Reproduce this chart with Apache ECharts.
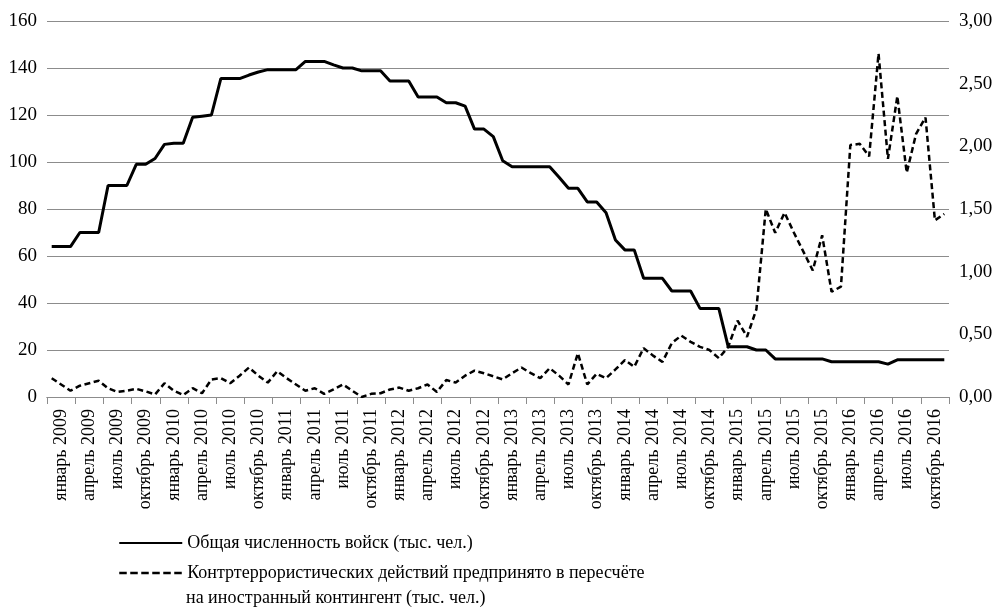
<!DOCTYPE html>
<html>
<head>
<meta charset="utf-8">
<script src="https://cdn.jsdelivr.net/npm/echarts@6/dist/echarts.min.js"></script>
<style>
  html, body { margin: 0; padding: 0; background: #fff; }
  #chart { width: 1000px; height: 612px; }
</style>
</head>
<body>
<div id="chart"></div>
<script>
// months Jan 2009 .. Dec 2016
const monthNames = ['январь', 'февраль', 'март', 'апрель', 'май', 'июнь', 'июль', 'август', 'сентябрь', 'октябрь', 'ноябрь', 'декабрь']
const years = [2009, 2010, 2011, 2012, 2013, 2014, 2015, 2016]
const months = []
years.forEach(y => monthNames.forEach(m => months.push(m + ' ' + y)))

// axis tick labels, one per quarter
const quarterLabels = [
  'январь 2009', 'апрель 2009', 'июль 2009', 'октябрь 2009',
  'январь 2010', 'апрель 2010', 'июль 2010', 'октябрь 2010',
  'январь 2011', 'апрель 2011', 'июль 2011', 'октябрь 2011',
  'январь 2012', 'апрель 2012', 'июль 2012', 'октябрь 2012',
  'январь 2013', 'апрель 2013', 'июль 2013', 'октябрь 2013',
  'январь 2014', 'апрель 2014', 'июль 2014', 'октябрь 2014',
  'январь 2015', 'апрель 2015', 'июль 2015', 'октябрь 2015',
  'январь 2016', 'апрель 2016', 'июль 2016', 'октябрь 2016'
]

// total troops, thousand people (left axis)
const troops = [
  64, 64, 64, 70, 70, 70, 90, 90, 90, 99, 99, 101.5,
  107.5, 108, 108, 119, 119.5, 120, 135.5, 135.5, 135.5, 137, 138.3, 139.3,
  139.3, 139.3, 139.3, 142.8, 142.8, 142.8, 141.3, 140, 140, 138.8, 138.8, 138.8,
  134.5, 134.5, 134.5, 127.7, 127.7, 127.7, 125.2, 125.2, 123.8, 114, 114, 110.8,
  100.5, 98, 98, 98, 98, 98, 93.5, 88.8, 88.8, 83, 83, 78.4,
  66.8, 62.6, 62.6, 50.5, 50.5, 50.5, 45.1, 45.1, 45.1, 37.7, 37.7, 37.7,
  21.4, 21.4, 21.4, 20, 20, 16.2, 16.2, 16.2, 16.2, 16.2, 16.2, 15,
  15, 15, 15, 15, 15, 14, 15.8, 15.8, 15.8, 15.8, 15.8, 15.8
]

// counter-terrorist actions per foreign contingent (right axis)
const actions = [
  0.15, 0.10, 0.05, 0.09, 0.11, 0.13, 0.07, 0.04, 0.05, 0.065, 0.045, 0.02,
  0.11, 0.05, 0.015, 0.07, 0.03, 0.14, 0.15, 0.11, 0.17, 0.235, 0.17, 0.115,
  0.205, 0.15, 0.10, 0.05, 0.07, 0.025, 0.06, 0.10, 0.05, 0.0, 0.025, 0.03,
  0.06, 0.075, 0.05, 0.07, 0.10, 0.04, 0.135, 0.115, 0.17, 0.21, 0.19, 0.165,
  0.14, 0.19, 0.235, 0.19, 0.15, 0.23, 0.17, 0.10, 0.35, 0.10, 0.185, 0.15,
  0.22, 0.295, 0.24, 0.39, 0.33, 0.28, 0.43, 0.49, 0.44, 0.40, 0.375, 0.31,
  0.40, 0.61, 0.48, 0.70, 1.50, 1.31, 1.47, 1.31, 1.16, 1.01, 1.29, 0.84,
  0.88, 2.01, 2.02, 1.92, 2.74, 1.90, 2.40, 1.79, 2.10, 2.23, 1.41, 1.46
]

const seriesNames = [
  'Общая численность войск (тыс. чел.)',
  'Контртеррористических действий предпринято в пересчёте'
]
const legendTail = 'на иностранный контингент (тыс. чел.)'

const font = 'Liberation Serif'
const gridColor = '#8c8c8c'

let chart = echarts.init(document.getElementById('chart'))
let option = {
  animation: false,
  textStyle: { fontFamily: font, color: '#000' },
  grid: { left: 47, right: 51, top: 21, bottom: 215 },
  legend: {
    orient: 'vertical',
    left: 113,
    top: 529,
    itemWidth: 63,
    itemHeight: 20,
    itemGap: 12,
    itemStyle: { opacity: 0 },
    textStyle: { fontFamily: font, fontSize: 18, color: '#000' },
    data: [
      { name: seriesNames[0] },
      { name: seriesNames[1], lineStyle: { type: [7.5, 3.5], width: 2.5 } }
    ]
  },
  graphic: [{
    type: 'text',
    left: 186,
    top: 589,
    style: { text: legendTail, fontFamily: font, fontSize: 18, fill: '#000' }
  }],
  xAxis: [
    {
      type: 'category',
      data: months,
      position: 'bottom',
      boundaryGap: true,
      axisLine: { lineStyle: { color: gridColor, width: 1 } },
      axisTick: { show: false },
      axisLabel: { show: false }
    },
    {
      type: 'category',
      data: quarterLabels,
      position: 'bottom',
      boundaryGap: true,
      axisLine: { lineStyle: { color: gridColor, width: 1 } },
      axisTick: { show: true, interval: 0, length: 7, lineStyle: { color: gridColor } },
      axisLabel: {
        interval: 0,
        rotate: 90,
        margin: 12,
        fontFamily: font,
        fontSize: 18,
        color: '#000'
      }
    }
  ],
  yAxis: [
    {
      type: 'value',
      min: 0,
      max: 160,
      interval: 20,
      axisLine: { show: false },
      axisTick: { show: false },
      splitLine: { lineStyle: { color: gridColor, width: 1 } },
      axisLabel: { margin: 10, fontFamily: font, fontSize: 19, color: '#000' }
    },
    {
      type: 'value',
      min: 0,
      max: 3,
      interval: 0.5,
      position: 'right',
      axisLine: { show: false },
      axisTick: { show: false },
      splitLine: { show: false },
      axisLabel: {
        margin: 10,
        fontFamily: font,
        fontSize: 19,
        color: '#000',
        formatter: v => v.toFixed(2).replace('.', ',')
      }
    }
  ],
  series: [
    {
      name: seriesNames[0],
      type: 'line',
      xAxisIndex: 0,
      yAxisIndex: 0,
      data: troops,
      symbol: 'none',
      lineStyle: { color: '#000', width: 3 },
      itemStyle: { color: '#000' }
    },
    {
      name: seriesNames[1],
      type: 'line',
      xAxisIndex: 0,
      yAxisIndex: 1,
      data: actions,
      symbol: 'none',
      lineStyle: { color: '#000', width: 2.5, type: [6, 3.5] },
      itemStyle: { color: '#000' }
    }
  ]
}
chart.setOption(option)
</script>
</body>
</html>
